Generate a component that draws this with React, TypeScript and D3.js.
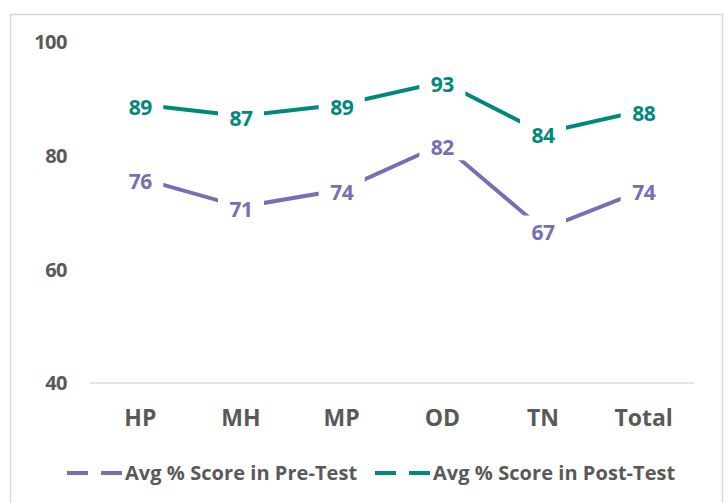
import React, { useEffect, useRef } from 'react';
import * as d3 from 'd3';

const categories = ['HP', 'MH', 'MP', 'OD', 'TN', 'Total'];
const preTest = [76, 71, 74, 82, 67, 74];
const postTest = [89, 87, 89, 93, 84, 88];
const yTicks = [40, 60, 80, 100];
const seriesNames = ['Avg % Score in Pre-Test', 'Avg % Score in Post-Test'];
const seriesColors = ['#7570b3', '#00897b'];

export default function App() {
  const svgRef = useRef<SVGSVGElement>(null);

  useEffect(() => {
    if (!svgRef.current) return;
    const W = 725;
    const H = 503;
    const font = '"Open Sans", Lato, sans-serif';

    d3.select(svgRef.current).selectAll('*').remove();
    const svg = d3.select(svgRef.current).attr('width', W).attr('height', H);

    // chart border
    svg.append('rect')
      .attr('x', 10.5).attr('y', 14.5)
      .attr('width', 712).attr('height', 500)
      .attr('fill', '#fff')
      .attr('stroke', '#d9d9d9')
      .attr('stroke-width', 1.5);

    const x = d3.scaleBand().domain(categories).range([90, 694]);
    const y = d3.scaleLinear().domain([40, 100]).range([383, 42]);
    const cx = (c: string) => (x(c) || 0) + x.bandwidth() / 2;

    // x axis line
    svg.append('line')
      .attr('x1', 90).attr('x2', 694)
      .attr('y1', y(40)).attr('y2', y(40))
      .attr('stroke', '#d9d9d9').attr('stroke-width', 1.5);

    // y tick labels
    svg.selectAll('.ytick')
      .data(yTicks)
      .enter()
      .append('text')
      .attr('x', 67)
      .attr('y', d => y(d))
      .attr('dy', '0.36em')
      .attr('text-anchor', 'end')
      .attr('font-family', font)
      .attr('font-weight', 700)
      .attr('font-size', 20)
      .attr('letter-spacing', -0.5)
      .attr('fill', '#595959')
      .text(d => d);

    // category labels
    svg.selectAll('.xtick')
      .data(categories)
      .enter()
      .append('text')
      .attr('x', d => cx(d))
      .attr('y', 418)
      .attr('dy', '0.36em')
      .attr('text-anchor', 'middle')
      .attr('font-family', font)
      .attr('font-weight', 700)
      .attr('font-size', 23)
      .attr('fill', '#595959')
      .text(d => d);

    const line = d3.line<number>()
      .x((_, i) => cx(categories[i]))
      .y(d => y(d));

    [preTest, postTest].forEach((vals, s) => {
      svg.append('path')
        .datum(vals)
        .attr('d', line)
        .attr('fill', 'none')
        .attr('stroke', seriesColors[s])
        .attr('stroke-width', 4);
    });

    // data labels with white boxes covering the line
    [preTest, postTest].forEach((vals, s) => {
      const g = svg.append('g');
      g.selectAll('rect')
        .data(vals)
        .enter()
        .append('rect')
        .attr('x', (_, i) => cx(categories[i]) - 23)
        .attr('y', d => y(d) - 14)
        .attr('width', 46)
        .attr('height', 30)
        .attr('fill', '#fff');
      g.selectAll('text')
        .data(vals)
        .enter()
        .append('text')
        .attr('x', (_, i) => cx(categories[i]))
        .attr('y', d => y(d) + 3)
        .attr('dy', '0.36em')
        .attr('text-anchor', 'middle')
        .attr('font-family', font)
        .attr('font-weight', 700)
        .attr('font-size', 21)
        .attr('letter-spacing', -0.5)
        .attr('fill', seriesColors[s])
        .text(d => d);
    });

    // legend
    const legendX = [67, 375];
    seriesNames.forEach((name, s) => {
      const lg = svg.append('g').attr('transform', `translate(${legendX[s]},473)`);
      lg.append('line')
        .attr('x1', 0).attr('x2', 55)
        .attr('y1', 0).attr('y2', 0)
        .attr('stroke', seriesColors[s])
        .attr('stroke-width', 4)
        .attr('stroke-dasharray', '21,13');
      lg.append('text')
        .attr('x', 58)
        .attr('y', 7)
        .attr('font-family', font)
        .attr('font-weight', 700)
        .attr('font-size', 20)
        .attr('letter-spacing', 0.05)
        .attr('fill', '#595959')
        .text(name);
    });
  }, []);

  return (
    <div style={{ position: 'absolute', left: 0, top: 0 }}>
      <svg ref={svgRef} style={{ display: 'block' }}></svg>
    </div>
  );
}
